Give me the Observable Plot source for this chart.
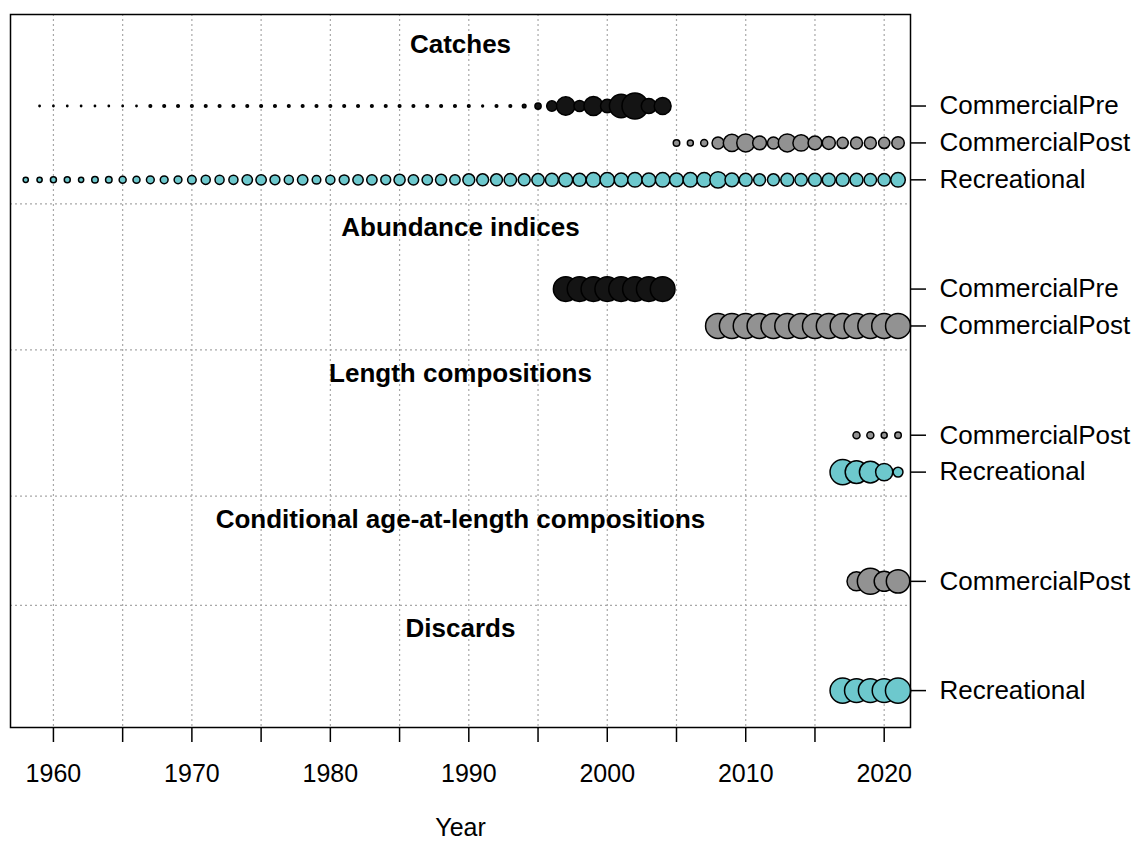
<!DOCTYPE html>
<html><head><meta charset="utf-8">
<script src="https://cdn.jsdelivr.net/npm/d3@7"></script>
<script src="https://cdn.jsdelivr.net/npm/@observablehq/plot@0.6"></script>
<style>body{margin:0;background:#fff} svg{display:block}</style>
</head><body><div id="chart"></div><script>
// ---- data ----
const fleets = ["CommercialPre", "CommercialPost", "Recreational"];
const fleetColors = ["#141414", "#929292", "#6dc8cd"];

const blockNames = ["Catches", "Abundance indices", "Length compositions",
  "Conditional age-at-length compositions", "Discards"];
// fleets per block, top to bottom
const blockFleets = [
  ["CommercialPre", "CommercialPost", "Recreational"],
  ["CommercialPre", "CommercialPost"],
  ["CommercialPost", "Recreational"],
  ["CommercialPost"],
  ["Recreational"]
];

// relative sizes (0-1, scaled within each data type)
const catchPreYears = d3.range(1959, 2005);
const catchPreValues = [0.05,0.05,0.05,0.05,0.05,0.05,0.05,0.05,
  0.10,0.10,0.10,0.10,0.10,0.10,0.10,0.10,0.10,0.10,0.10,0.10,0.10,0.10,0.10,0.10,
  0.10,0.10,0.10,0.10,0.10,0.10,0.10,0.10,
  0.07,0.10,0.10,0.14,0.24,0.40,0.71,0.43,0.73,0.52,0.90,1.00,0.58,0.65];
const catchPostYears = d3.range(2005, 2022);
const catchPostValues = [0.25,0.23,0.27,0.46,0.66,0.69,0.53,0.46,0.69,0.63,0.53,0.50,0.43,0.46,0.46,0.43,0.48];
const catchRecYears = d3.range(1958, 2022);
const catchRecValues = [
  0.20,0.20,0.23,0.23,0.20,0.25,0.25,0.27,0.27,0.30,
  0.30,0.30,0.33,0.35,0.35,0.35,0.40,0.40,0.38,0.35,
  0.40,0.33,0.35,0.38,0.40,0.40,0.38,0.43,0.40,0.40,
  0.43,0.40,0.46,0.46,0.46,0.48,0.46,0.48,0.50,0.53,
  0.50,0.56,0.56,0.53,0.56,0.53,0.56,0.53,0.56,0.56,
  0.63,0.53,0.50,0.46,0.46,0.50,0.48,0.50,0.50,0.50,
  0.50,0.48,0.48,0.56];
const abundPreYears = d3.range(1997, 2005);
const abundPreValues = [0.95,0.95,0.95,0.95,0.95,0.95,0.95,0.95];
const abundPostYears = d3.range(2008, 2022);
const abundPostValues = [0.96,0.96,0.96,0.96,0.96,0.96,0.96,0.96,0.96,0.96,0.96,0.96,0.96,0.96];
const lenPostYears = [2018, 2019, 2020, 2021];
const lenPostValues = [0.27,0.27,0.23,0.25];
const lenRecYears = [2017, 2018, 2019, 2020, 2021];
const lenRecValues = [0.97,0.87,0.84,0.66,0.38];
const caalPostYears = [2018, 2019, 2020, 2021];
const caalPostValues = [0.73,1.00,0.77,0.90];
const discRecYears = [2017, 2018, 2019, 2020, 2021];
const discRecValues = [0.97,0.92,0.92,0.92,0.97];

const series = [
  {block: 0, fleet: "CommercialPre", years: catchPreYears, values: catchPreValues},
  {block: 0, fleet: "CommercialPost", years: catchPostYears, values: catchPostValues},
  {block: 0, fleet: "Recreational", years: catchRecYears, values: catchRecValues},
  {block: 1, fleet: "CommercialPre", years: abundPreYears, values: abundPreValues},
  {block: 1, fleet: "CommercialPost", years: abundPostYears, values: abundPostValues},
  {block: 2, fleet: "CommercialPost", years: lenPostYears, values: lenPostValues},
  {block: 2, fleet: "Recreational", years: lenRecYears, values: lenRecValues},
  {block: 3, fleet: "CommercialPost", years: caalPostYears, values: caalPostValues},
  {block: 4, fleet: "Recreational", years: discRecYears, values: discRecValues}
];

const tick5 = d3.range(1960, 2021, 5);
const tick10 = d3.range(1960, 2021, 10);

// ---- layout in row units (bottom block first) ----
const rowPos = new Map(); // key block|fleet -> y
const titles = [];
const seps = [];
let pos = 0;
const last = blockNames.length - 1;
for (let b = last; b >= 0; b--) {
  const fl = blockFleets[b].slice().reverse();
  if (b < last) pos += 2.96;
  const bottom = pos;
  fl.forEach((f, i) => {
    if (i > 0) pos += 1;
    rowPos.set(b + "|" + f, pos);
  });
  titles.push({name: blockNames[b], y: pos + 1.67});
  if (b < last) seps.push(bottom - 0.65);
}
const rows = [...rowPos.entries()].map(([k, y]) => ({y, fleet: k.split("|")[1]}));
const labelOf = new Map(rows.map(r => [r.y, r.fleet]));

const points = series.flatMap(s => s.years.map((yr, i) => ({
  year: yr, value: s.values[i], fleet: s.fleet, y: rowPos.get(s.block + "|" + s.fleet)
})));

const chart = Plot.plot({
  width: 1135, height: 843,
  marginLeft: 10, marginRight: 225, marginTop: 14, marginBottom: 116,
  style: {fontFamily: "'Liberation Sans', Arial, sans-serif", fontSize: "25px", background: "white", color: "black"},
  x: {domain: [1956.9, 2021.9]},
  y: {domain: [-1.0, 18.32]},
  r: {type: "linear", domain: [0, 1], range: [0, 13]},
  color: {domain: fleets, range: fleetColors},
  marks: [
    Plot.ruleX(tick5, {stroke: "#a8a8a8", strokeDasharray: "2,3", strokeWidth: 1.2}),
    Plot.ruleY(seps, {stroke: "#a8a8a8", strokeDasharray: "2,3", strokeWidth: 1.2}),
    Plot.dot(points, {x: "year", y: "y", r: "value", fill: "fleet", stroke: "black", strokeWidth: 1.5, sort: null}),
    Plot.text(titles, {y: "y", text: "name", fontWeight: "bold", fontSize: 26}),
    Plot.frame({stroke: "black", strokeWidth: 1.5}),
    Plot.axisX(tick5, {tickSize: 15, tickFormat: () => "", label: null, strokeWidth: 1.5}),
    Plot.axisX(tick10, {tickSize: 0, tickPadding: 37, tickFormat: d => String(d), label: null, fontSize: 25}),
    Plot.axisY(rows.map(r => r.y), {anchor: "right", tickSize: 15, tickPadding: 14, tickFormat: y => labelOf.get(y), label: null, fontSize: 26, strokeWidth: 1.5}),
    Plot.text(["Year"], {frameAnchor: "bottom", lineAnchor: "middle", dy: 100, fontSize: 25})
  ]
});
document.getElementById("chart").appendChild(chart);
</script></body></html>
